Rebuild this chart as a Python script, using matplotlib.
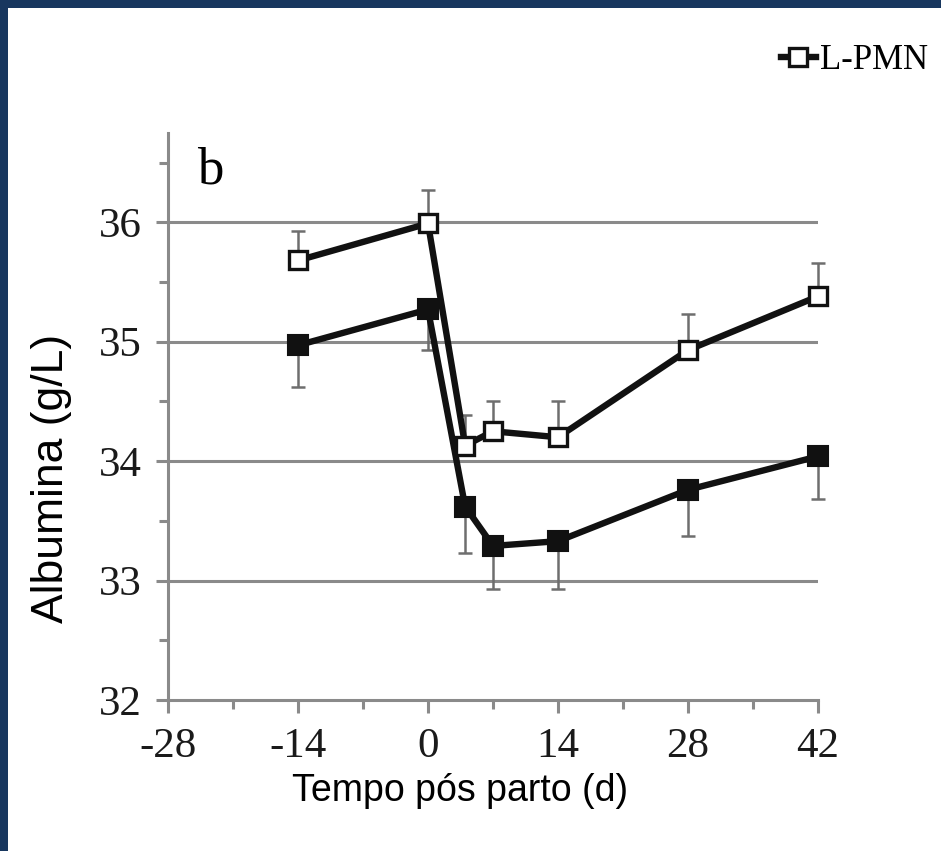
import matplotlib
matplotlib.use("Agg")
import matplotlib.pyplot as plt
from matplotlib.patches import Rectangle
from matplotlib.ticker import MultipleLocator

# ---------------- data ----------------
days = [-14, 0, 4, 7, 14, 28, 42]

# open squares (L-PMN), error bars drawn upward
lpmn_mean = [35.68, 35.99, 34.13, 34.25, 34.20, 34.93, 35.38]
lpmn_err = [0.25, 0.28, 0.26, 0.25, 0.30, 0.30, 0.28]

# filled squares (second group, legend entry cut off), error bars drawn downward
other_mean = [34.97, 35.27, 33.62, 33.29, 33.33, 33.76, 34.04]
other_err = [0.35, 0.34, 0.39, 0.36, 0.40, 0.39, 0.36]

xticks = [-28, -14, 0, 14, 28, 42]
yticks = [32, 33, 34, 35, 36]

# ---------------- style ----------------
plt.rcParams["axes.unicode_minus"] = False
navy = "#18375f"
grey = "#8a8a8a"
errgrey = "#6e6e6e"
serif = ["Liberation Serif", "DejaVu Serif"]
sans = ["Liberation Sans", "DejaVu Sans"]

W, H = 941, 851
fig = plt.figure(figsize=(W / 100, H / 100), dpi=100, facecolor="white")

# navy frame round the white area
fig.patches.append(Rectangle((0, 0), 1, 1, transform=fig.transFigure,
                             facecolor=navy, edgecolor="none", zorder=-10))
fig.patches.append(Rectangle((8 / W, 0), 1, 1 - 8 / H, transform=fig.transFigure,
                             facecolor="white", edgecolor="none", zorder=-9))

ax = fig.add_axes([168 / W, 1 - 700 / H, 650 / W, 567.3 / H])
ax.set_facecolor("none")

ax.set_xlim(-28, 42)
ax.set_ylim(32, 36.75)

# grid only at major y values
for yv in yticks[1:]:
    ax.axhline(yv, color=grey, lw=2.2, zorder=0.5)

# error bars (one-sided)
ax.errorbar(days, lpmn_mean, yerr=[[0] * len(days), lpmn_err], fmt="none",
            ecolor=errgrey, elinewidth=1.8, capsize=5, capthick=1.8,
            zorder=1, clip_on=False)
ax.errorbar(days, other_mean, yerr=[other_err, [0] * len(days)], fmt="none",
            ecolor=errgrey, elinewidth=1.8, capsize=5, capthick=1.8,
            zorder=1, clip_on=False)

# lines with markers
ax.plot(days, other_mean, color="#111111", lw=4.6, marker="s", ms=15,
        mfc="#111111", mec="#111111", mew=1.5, zorder=3, clip_on=False)
l_open, = ax.plot(days, lpmn_mean, color="#111111", lw=4.6, marker="s", ms=12.5,
                  mfc="white", mec="#111111", mew=2.4, zorder=4, clip_on=False)

# axes cosmetics
for side in ("top", "right"):
    ax.spines[side].set_visible(False)
for side in ("left", "bottom"):
    ax.spines[side].set_color(grey)
    ax.spines[side].set_linewidth(2.2)

ax.set_xticks(xticks)
ax.set_yticks(yticks)
ax.xaxis.set_minor_locator(MultipleLocator(7))
ax.yaxis.set_minor_locator(MultipleLocator(0.5))
ax.tick_params(axis="both", which="major", direction="out", length=9,
               width=2.2, color=grey, labelsize=31, labelcolor="#1a1a1a")
ax.tick_params(axis="x", which="major", pad=11)
ax.tick_params(axis="y", which="major", pad=10)
ax.tick_params(axis="both", which="minor", direction="out", length=6.5,
               width=2.2, color=grey)
for lab in ax.get_xticklabels() + ax.get_yticklabels():
    lab.set_family(serif)

ax.set_xlabel("Tempo pós parto (d)", family=sans, fontsize=27, x=0.45,
              labelpad=5)
ax.set_ylabel("Albumina (g/L)", family=sans, fontsize=32, y=0.39, labelpad=19)

ax.text(0.045, 0.911, "b", transform=ax.transAxes, family=serif, fontsize=38,
        va="baseline", ha="left")

# legend: only the L-PMN entry is visible in the crop
fig.legend(handles=[l_open], labels=["L-PMN"], loc="upper right",
           bbox_to_anchor=(928 / W, 1 - 44 / H), frameon=False,
           handlelength=1.0, handletextpad=0.12, borderpad=0, borderaxespad=0,
           prop={"family": serif, "size": 25})

fig.savefig("out.png", dpi=100, facecolor="white")
